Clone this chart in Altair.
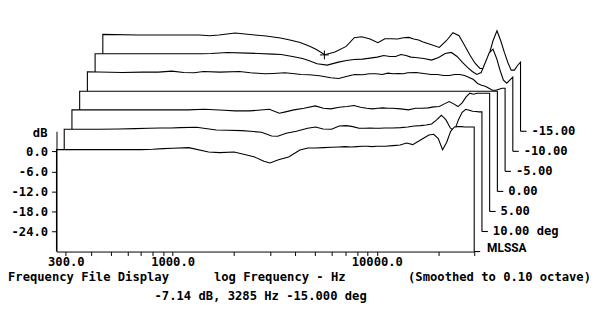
import altair as alt
import pandas as pd

# ---------------- data read from the MLSSA waterfall ----------------
freqs = [270, 400, 500, 600, 700, 800, 900, 1000, 1200, 1500, 1700, 2000, 2200, 2500, 2800, 3000,
         3300, 3700, 4200, 4600, 5000, 5500, 6000, 6500, 7000, 7500, 8000, 8500, 9000, 9500, 10000,
         11000, 12000, 13000, 14000, 15000, 16000, 17000, 18000, 19000, 20000, 21000, 22000, 23000,
         24000, 25000, 26000, 27000, 28000, 29000, 30000]

slice_angles = [15, 10, 5, 0, -5, -10, -15]
slice_labels = ["MLSSA", "10.00 deg", "5.00", "0.00", "-5.00", "-10.00", "-15.00"]

db_p15 = [0.5, 0.5, 0.5, 0.5, 0.5, 0.6, 0.8, 0.9, 1.1, -0.2, -0.4, -0.2, -0.8, -1.6, -3.0, -3.5,
          -2.5, -1.7, 0.4, 1.0, 1.0, 1.1, 1.2, 1.3, 1.4, 1.3, 1.4, 1.5, 1.5, 1.4, 1.5,
          1.5, 1.7, 1.9, 2.5, 2.0, 3.0, 4.0, 4.9, 5.1, 3.8, 0.5, 2.7, 6.0, 7.3, 7.4, 7.4, 7.3, 7.3, 7.3, 7.3]
db_p10 = [0.6, 0.6, 0.7, 0.8, 0.9, 1.0, 1.0, 1.1, 1.2, 0.4, 0.3, 0.2, 0.0, -0.3, -1.4, -1.5,
          -0.6, 0.0, 0.9, 1.3, 0.7, 0.6, 1.6, 1.7, 1.4, 0.9, 0.9, 1.0, 0.9, 0.9, 1.0,
          1.0, 1.1, 1.3, 1.6, 1.7, 1.9, 2.2, 3.4, 4.8, 3.4, 1.0, 0.1, 3.4, 5.7, 6.6, 6.3, 6.0, 5.9, 5.8, 5.8]
db_p5 = [0.4, 0.4, 0.4, 0.4, 0.4, 0.4, 0.4, 0.4, 0.6, 0.3, 0.1, 0.1, 0.3, 0.6, -0.6, -0.2,
         0.4, 0.9, 1.6, 0.9, 0.7, 1.2, 1.4, 1.7, 1.2, 0.9, 0.7, 0.9, 1.0, 0.9, 0.9,
         0.7, 0.4, 0.9, 0.9, 1.0, 1.3, 1.4, 2.2, 2.9, 2.2, 1.4, 2.5, 4.3, 5.4, 5.1, 5.4, 5.4, 5.4, 5.4, 5.4]
db_0 = [0.0] * 51
db_m5 = [-0.2, -0.4, -0.3, -0.3, 0.0, -0.4, -0.5, -0.1, -0.3, -0.1, -0.5, -0.8, -0.7, -0.5, -0.8, -1.0,
         -1.1, -1.4, -2.0, -2.2, -1.6, -1.0, -1.1, -0.8, -0.8, -1.0, -0.6, -0.8, -0.7, -0.8, -0.5,
         -0.4, -0.7, -1.0, -1.0, -1.3, -1.3, -1.0, -1.0, -1.3, -1.9, -2.5, -3.7, -4.2, -4.5, -5.1, -5.7,
         -5.7, -5.4, -5.1, -5.1]
db_m10 = [-0.8, -0.8, -0.8, -0.8, -0.8, -0.8, -0.8, -0.7, -0.4, -0.6, -0.7, -0.9, -1.0, -1.6, -2.2, -2.8,
          -3.8, -4.2, -3.3, -2.8, -2.5, -2.4, -2.1, -1.8, -1.3, -1.6, -1.6, -1.0, -1.3, -1.8, -1.9,
          -2.2, -2.7, -1.9, -0.7, -0.4, -1.6, -3.4, -4.9, -6.1, -7.0, -6.4, -3.4, -0.5, 0.6, -2.2, -5.8,
          -8.7, -9.6, -8.7, -7.8]
db_m15 = [-1.0, -1.2, -1.2, -1.2, -1.2, -1.2, -1.4, -1.2, -0.6, -1.2, -1.5, -2.1, -2.6, -3.4, -4.6, -5.5,
          -7.1, -6.3, -4.6, -2.0, -1.7, -2.4, -3.5, -2.3, -2.3, -2.4, -2.0, -1.9, -2.4, -2.7, -3.3,
          -4.1, -4.9, -2.9, -0.5, -1.4, -4.4, -7.3, -9.7, -11.2, -11.2, -7.3, -2.9, 0.1, -2.9, -6.4, -9.4,
          -11.7, -11.7, -10.3, -9.3]
slice_db = [db_p15, db_p10, db_p5, db_0, db_m5, db_m10, db_m15]

x_tick_values = [300, 400, 500, 600, 700, 800, 900, 1000, 2000, 3000, 4000, 5000, 6000, 7000,
                 8000, 9000, 10000, 20000, 30000]
y_tick_values = [0, -6, -12, -18, -24]

cursor_freq = 3285
cursor_db = -7.14
cursor_slice = 6

# ---------------- waterfall projection ----------------
DB_STEP = 6.0                       # each slice raised 6 dB
X_STEP = 10 ** (7.8 / 206.3)        # each slice shifted right (log axis)
FLOOR = -30.0

FONT = "DejaVu Sans Mono"
FS = 12.3

xscale = alt.Scale(type="log", domain=[270, 30000], nice=False)
yscale = alt.Scale(domain=[-30, 6], nice=False, zero=False)

xaxis = alt.Axis(values=x_tick_values,
                 labelExpr="datum.value == 300 || datum.value == 1000 || datum.value == 10000 ? format(datum.value, '.1f') : ''",
                 tickSize=4, labelPadding=0, domainColor="black", tickColor="black",
                 labelColor="black", labelFont=FONT, labelFontSize=FS, labelFontWeight="bold",
                 grid=False, title=None, zindex=1, labelOverlap=False, labelFlush=False)
yaxis = alt.Axis(values=y_tick_values,
                 labelExpr="(datum.value < 0 ? '-' : '') + format(abs(datum.value), '.1f')",
                 tickSize=5, labelPadding=4, domainColor="black", tickColor="black",
                 labelColor="black", labelFont=FONT, labelFontSize=FS, labelFontWeight="bold",
                 grid=False, zindex=1, labelOverlap=False,
                 title="dB", titleAngle=0, titleX=-17, titleY=1, titleAlign="center",
                 titleBaseline="middle", titleFont=FONT, titleFontSize=FS, titleFontWeight="bold",
                 titleColor="black")

X = alt.X("f:Q", scale=xscale, axis=xaxis)
Y = alt.Y("db:Q", scale=yscale, axis=yaxis)

layers = []
for k in reversed(range(len(slice_db))):
    s = X_STEP ** k
    off = DB_STEP * k
    fl = FLOOR + off
    fs = [f * s for f in freqs]
    vs = [v + off for v in slice_db[k]]
    curve = pd.DataFrame({"f": fs, "db": vs, "floor": fl})
    outline = pd.DataFrame({"f": [fs[0]] + fs + [fs[-1]], "db": [fl] + vs + [fl]})
    outline["i"] = range(len(outline))
    area = alt.Chart(curve).mark_area(color="white", opacity=1).encode(
        x=X, y=Y, y2=alt.Y2("floor:Q"))
    line = alt.Chart(outline).mark_line(color="black", strokeWidth=1.1).encode(
        x=X, y=Y, order=alt.Order("i:Q"))
    layers += [area, line]

lab = pd.DataFrame({
    "f": [30000 * X_STEP ** k for k in range(len(slice_labels))],
    "db": [FLOOR + DB_STEP * k for k in range(len(slice_labels))],
    "label": slice_labels,
})
ticks = alt.Chart(lab).mark_rule(color="black", strokeWidth=1.1, x2Offset=6).encode(
    x=X, x2=alt.X2("f:Q"), y=Y)
labels = alt.Chart(lab.iloc[1:]).mark_text(
    align="left", baseline="middle", dx=11, font=FONT, fontSize=FS, fontWeight="bold",
    color="black").encode(x=X, y=Y, text="label:N")
mlssa = alt.Chart(lab.iloc[:1]).mark_text(
    align="left", baseline="alphabetic", dx=13, font="Roboto", fontSize=12,
    fontWeight="bold", color="black").encode(x=X, y=Y, text="label:N")

cur = pd.DataFrame({"f": [cursor_freq * X_STEP ** cursor_slice],
                    "db": [cursor_db + DB_STEP * cursor_slice]})
cursor = alt.Chart(cur).mark_point(shape="M-1,0L1,0M0,-1L0,1", size=81, color="black",
                                   strokeWidth=1, filled=False, opacity=1).encode(x=X, y=Y)

one = pd.DataFrame({"a": [0]})


def note(txt, x, y, align="left"):
    return alt.Chart(one).mark_text(
        text=txt, align=align, baseline="middle", font=FONT, fontSize=FS,
        fontWeight="bold", color="black").encode(x=alt.value(x), y=alt.value(y))


status = f"{cursor_db:.2f} dB, {cursor_freq} Hz {slice_angles[cursor_slice]:.3f} deg"

notes = [
    note("Frequency File Display", -49, 147),
    note("log Frequency - Hz", 159, 147),
    note("(Smoothed to 0.10 octave)", 540, 147, align="right"),
    note(status, 99, 166),
]

chart = alt.layer(*layers, ticks, labels, mlssa, cursor, *notes).properties(
    width=422, height=121.5,
    autosize=alt.AutoSizeParams(type="none"),
    padding={"left": 49, "top": 123, "right": 119, "bottom": 56},
    background="white",
).configure_view(strokeWidth=0)

chart.save("out.html", embed_options={"renderer": "svg", "actions": False})
